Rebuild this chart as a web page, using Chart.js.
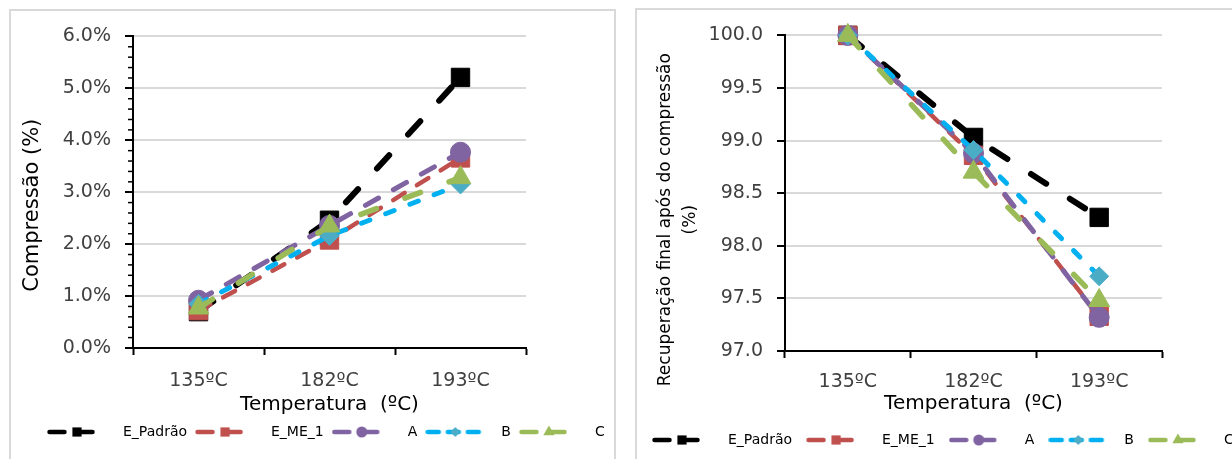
<!DOCTYPE html>
<html><head><meta charset="utf-8">
<script src="https://cdn.jsdelivr.net/npm/chart.js@4.4.1/dist/chart.umd.min.js"></script>
<style>
html,body{margin:0;padding:0;background:#fff;width:1232px;height:459px;overflow:hidden;position:relative;}
.frame{position:absolute;border:2px solid #d9d9d9;box-sizing:border-box;}
canvas{position:absolute;}
</style></head><body>
<div class="frame" style="left:9px;top:9px;width:607px;height:480px"></div>
<div class="frame" style="left:635px;top:8px;width:700px;height:480px"></div>
<canvas id="c1" width="603" height="448" style="left:11px;top:11px"></canvas>
<canvas id="c2" width="620" height="449" style="left:637px;top:10px"></canvas>
<script>
// ---------- data ----------
const categories = ['135ºC', '182ºC', '193ºC'];
const seriesNames = ['E_Padrão', 'E_ME_1', 'A', 'B', 'C'];

const compPadrao = [0.70, 2.46, 5.21];
const compME1    = [0.72, 2.08, 3.66];
const compA      = [0.92, 2.36, 3.77];
const compB      = [0.85, 2.16, 3.15];
const compC      = [0.77, 2.35, 3.28];

const recPadrao = [100.0, 99.03, 98.27];
const recME1    = [100.0, 98.86, 97.33];
const recA      = [100.0, 98.88, 97.32];
const recB      = [100.0, 98.91, 97.71];
const recC      = [100.0, 98.70, 97.48];

const compTickLabels = ['0.0%', '1.0%', '2.0%', '3.0%', '4.0%', '5.0%', '6.0%'];
const recTickLabels  = ['97.0', '97.5', '98.0', '98.5', '99.0', '99.5', '100.0'];

const compTitle = 'Compressão (%)';
const recTitle = ['Recuperação final após do compressão', '(%)'];
const xTitle = 'Temperatura  (ºC)';

// ---------- styles ----------
const F = "'DejaVu Sans', sans-serif";
const styles = [
  {color: '#000000', marker: '#000000', width: 6,   dash: [18, 28], point: 'rect',     r: 13,   lr: 6.5, lDash: [15, 13]},
  {color: '#c0504d', marker: '#c0504d', width: 4.5, dash: [13.5, 14.5], point: 'rect', r: 13,   lr: 6.5, lDash: [15, 13]},
  {color: '#8064a2', marker: '#8064a2', width: 5,   dash: [15, 17], point: 'circle',   r: 10,   lr: 5.5, lDash: [15, 13]},
  {color: '#00b0f0', marker: '#4bacc6', width: 5,   dash: [9, 17],  point: 'rectRot',  r: 9.5,  lr: 5,   lDash: [11, 9]},
  {color: '#9bbb59', marker: '#9bbb59', width: 5.5, dash: [16.5, 30.5], point: 'triangle', r: 12, lr: 6.5, lDash: [15, 13]}
];

function legendImg(s) {
  const c = document.createElement('canvas');
  c.width = 69; c.height = 16;
  const x = c.getContext('2d');
  x.strokeStyle = s.color; x.lineWidth = 4.5; x.lineCap = 'round';
  x.setLineDash(s.lDash);
  x.beginPath(); x.moveTo(2.5, 8); x.lineTo(55, 8); x.stroke();
  x.setLineDash([]);
  x.fillStyle = s.marker;
  Chart.helpers.drawPoint(x, {pointStyle: s.point, radius: s.lr, borderWidth: 0, rotation: 0}, 30, 8);
  return c;
}
const legendImgs = styles.map(legendImg);

function makeDatasets(arrays) {
  return arrays.map((d, i) => {
    const s = styles[i];
    return {
      label: seriesNames[i], data: d,
      borderColor: s.color, backgroundColor: s.color, borderWidth: s.width,
      borderDash: s.dash, borderCapStyle: 'round', borderJoinStyle: 'round',
      pointStyle: s.point, pointRadius: s.r, pointHoverRadius: s.r,
      pointBackgroundColor: s.marker, pointBorderColor: s.marker, pointBorderWidth: 1,
      tension: 0, fill: false, clip: false, order: 5 - i
    };
  });
}

// ---------- plugins ----------
const legendShift = {
  id: 'legendShift',
  afterLayout(chart, args, opts) {
    const lg = chart.legend; if (!lg || opts.left === undefined) return;
    const dx = opts.left - lg.left, dy = opts.top - lg.top;
    lg.left += dx; lg.right += dx; lg.top += dy; lg.bottom += dy;
  }
};
const titleShift = {
  id: 'titleShift',
  beforeDraw(chart, args, opts) {
    const s = chart.scales.y; if (!s || s.__ts) return;
    const orig = s.drawTitle;
    s.drawTitle = function () { this.ctx.save(); this.ctx.translate(0, opts.dy || 0); orig.call(this); this.ctx.restore(); };
    s.__ts = true;
  }
};
const minorTicks = {
  id: 'minorTicks',
  afterDraw(chart, args, opts) {
    if (!opts.step) return;
    const s = chart.scales.y, ctx = chart.ctx, x = chart.chartArea.left;
    ctx.save(); ctx.strokeStyle = '#000'; ctx.lineWidth = 1.5;
    const n = Math.round((s.max - s.min) / opts.step);
    for (let k = 0; k <= n; k++) {
      if (k % opts.every === 0) continue;
      const y = s.getPixelForValue(s.min + k * opts.step);
      ctx.beginPath(); ctx.moveTo(x - 5, y); ctx.lineTo(x, y); ctx.stroke();
    }
    ctx.restore();
  }
};

function makeChart(id, cfg) {
  return new Chart(document.getElementById(id), {
    type: 'line',
    data: {labels: categories, datasets: makeDatasets(cfg.series)},
    plugins: [legendShift, titleShift, minorTicks],
    options: {
      responsive: false, animation: false, devicePixelRatio: 1,
      layout: {padding: {top: 17, bottom: cfg.padBottom, left: 0, right: 0}},
      plugins: {
        tooltip: {enabled: false},
        legend: {
          display: true, position: 'bottom', align: 'start',
          labels: {
            usePointStyle: true, pointStyleWidth: 69, padding: cfg.legPad,
            color: '#404040', font: {family: F, size: 14},
            generateLabels: chart => chart.data.datasets.map((ds, i) => ({
              text: ds.label, pointStyle: legendImgs[i], datasetIndex: i,
              fillStyle: ds.borderColor, strokeStyle: ds.borderColor, lineWidth: 0, hidden: false
            }))
          }
        },
        legendShift: {left: cfg.legLeft, top: cfg.legTop},
        titleShift: {dy: cfg.titleDy},
        minorTicks: cfg.minor
      },
      scales: {
        x: {
          type: 'category', offset: true,
          grid: {offset: true, drawOnChartArea: false, drawTicks: true, tickLength: 7, tickColor: '#000', tickWidth: 2},
          border: {color: '#000', width: 2},
          ticks: {padding: cfg.xTickPad, color: '#404040', font: {family: F, size: 19}},
          title: {display: true, text: xTitle, color: '#000', font: {family: F, size: 20}, padding: {top: 0, bottom: cfg.xTitlePb}},
          afterFit: s => { s.height = 70; }
        },
        y: {
          type: 'linear', min: cfg.min, max: cfg.max,
          ticks: {stepSize: cfg.step, padding: 14, color: '#404040', font: {family: F, size: 19},
                  callback: (v, i) => cfg.tickLabels[i]},
          grid: {color: c => c.index === 0 ? 'rgba(0,0,0,0)' : '#d9d9d9', lineWidth: 2, tickLength: 8, tickColor: '#000', tickWidth: 2},
          border: {color: '#000', width: 2},
          title: {display: true, text: cfg.title, color: '#000', font: {family: F, size: cfg.titleSize, lineHeight: cfg.titleLh},
                  padding: {top: cfg.titlePt, bottom: 0}},
          afterFit: s => { s.width = cfg.yWidth; }
        },
        y2: {
          type: 'linear', position: 'right', display: true,
          grid: {display: false}, ticks: {display: false}, border: {display: false},
          afterFit: s => { s.width = cfg.rightWidth; }
        }
      }
    }
  });
}

makeChart('c1', {
  series: [compPadrao, compME1, compA, compB, compC],
  min: 0, max: 6, step: 1, tickLabels: compTickLabels,
  title: compTitle, titleSize: 21, titleLh: 1.2, titlePt: 9.4, titleDy: 13,
  yWidth: 122, rightWidth: 88, padBottom: 9,
  xTickPad: 14.6, xTitlePb: 1,
  legPad: 8, legLeft: 28, legTop: 406,
  minor: {step: 0.2, every: 5}
});

makeChart('c2', {
  series: [recPadrao, recME1, recA, recB, recC],
  min: 97, max: 100, step: 0.5, tickLabels: recTickLabels,
  title: recTitle, titleSize: 17, titleLh: 25 / 17, titlePt: 16.5, titleDy: 26.5,
  yWidth: 148, rightWidth: 95, padBottom: 0,
  xTickPad: 12.6, xTitlePb: 5,
  legPad: 14, legLeft: 1, legTop: 409,
  minor: {step: 0}
});
</script>
</body></html>
